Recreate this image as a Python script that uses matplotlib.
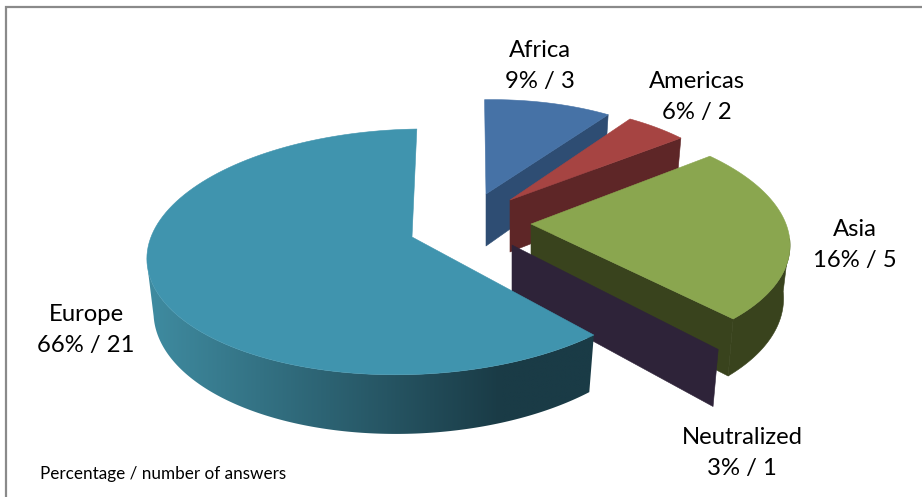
import numpy as np
import matplotlib
matplotlib.use("Agg")
import matplotlib.pyplot as plt
from matplotlib.patches import Polygon

categories = ["Africa", "Americas", "Asia", "Neutralized", "Europe"]
percent = [9, 6, 16, 3, 66]
answers = [3, 2, 5, 1, 21]
# Sweep of each slice as it appears in the picture, degrees clockwise from the top
sweeps = [36.5, 17.5, 85, 0.5, 220.5]
start_angle = -2

top_colors = ["#4672A6", "#A64442", "#8AA64F", "#6F5A92", "#4094AE"]
wall_colors = ["#2E4D73", "#5E2627", "#39431D", "#2E2339", "#1A3B46"]
apex_x = [486, 510, 531, 512, 412]
apex_y = [194, 200, 224, 245, 237]
radius = [228, 233, 255, 278, 261]
shear = [-0.06, 0, 0.12, 0, -0.12]
label_x = [540, 697, 855, 742, 86]
label_y = [66, 97, 245, 453, 330]
note = "Percentage / number of answers"

PERSP, SQUASH, THICK, TAPER = 0.121, 0.464, 52, 0.975

fig = plt.figure(figsize=(9.22, 4.97), dpi=100)
ax = fig.add_axes([0, 0, 1, 1])
ax.axis("off")


def top_pt(i, deg):
    a = np.radians(deg)
    d = 1 + PERSP * np.cos(a)
    yd = -radius[i] * SQUASH * np.cos(a) / d
    xd = radius[i] * np.sin(a) / d + shear[i] * yd
    return apex_x[i] + xd, apex_y[i] + yd


def bottom_pt(i, deg):
    x, y = top_pt(i, deg)
    d = 1 + PERSP * np.cos(np.radians(deg))
    return apex_x[i] + (x - apex_x[i]) * TAPER, y + THICK / d


def poly(pts, color, z):
    ax.add_patch(Polygon(pts, closed=True, facecolor=color, edgecolor=color,
                         linewidth=0.4, zorder=z, joinstyle="round"))


def arc(i, a1, a2):
    return [top_pt(i, t) for t in np.linspace(a1, a2, 120)]


def radial_wall(i, deg, z):
    poly([(apex_x[i], apex_y[i]), top_pt(i, deg), bottom_pt(i, deg),
          (apex_x[i], apex_y[i] + THICK)], wall_colors[i], z)


def wall_outline(i, a1, a2):
    ts = np.linspace(a1, a2, 160)
    return [top_pt(i, t) for t in ts] + [bottom_pt(i, t) for t in ts[::-1]]


edges = start_angle + np.cumsum([0] + sweeps)
spans = list(zip(edges[:-1], edges[1:]))
iA, iM, iS, iN, iE = range(5)

# Africa
radial_wall(iA, spans[iA][1], 2)
poly([(apex_x[iA], apex_y[iA])] + arc(iA, *spans[iA]), top_colors[iA], 3)
# Americas
radial_wall(iM, spans[iM][1], 4)
poly([(apex_x[iM], apex_y[iM])] + arc(iM, *spans[iM]), top_colors[iM], 5)
# Asia
poly(wall_outline(iS, 97, spans[iS][1]), wall_colors[iS], 6)
radial_wall(iS, spans[iS][1], 6)
poly([(apex_x[iS], apex_y[iS])] + arc(iS, *spans[iS]), top_colors[iS], 7)
# Neutralized: only its face shows, in front of the Asia wall
radial_wall(iN, spans[iN][1], 8)

# Europe: shaded outer wall, then the top
a1, a2 = spans[iE]
c0 = np.array([0x3F, 0x8B, 0xA0]) / 255
c1 = np.array([0x1A, 0x3B, 0x46]) / 255
t = np.clip((np.linspace(140, 610, 256) - 150) / 350, 0, 1)
grad = (c0[None, :] + (c1 - c0)[None, :] * t[:, None])[None, :, :]
im = ax.imshow(grad, extent=(140, 610, 450, 200), aspect="auto",
               interpolation="bilinear", zorder=9)
clip = Polygon(wall_outline(iE, a1, 258), closed=True, transform=ax.transData)
im.set_clip_path(clip)
poly([(apex_x[iE], apex_y[iE])] + arc(iE, a1, a2), top_colors[iE], 10)

ax.set_xlim(0, 922)
ax.set_ylim(497, 0)

# Frame: only the top and left lines show
ax.plot([6, 6, 922], [497, 7, 7], color="#8A8A8A", lw=1.6, zorder=1,
        solid_joinstyle="miter", clip_on=False)

for c, p, n, x, y in zip(categories, percent, answers, label_x, label_y):
    ax.text(x, y, f"{c}\n{p}% / {n}", ha="center", va="center", fontsize=17.2,
            family="Lato", color="black", linespacing=1.55, zorder=20)
ax.text(40, 474, note, ha="left", va="center", fontsize=12.3, family="Lato",
        color="black", zorder=20)

fig.savefig("out.png", dpi=100, facecolor="white")
